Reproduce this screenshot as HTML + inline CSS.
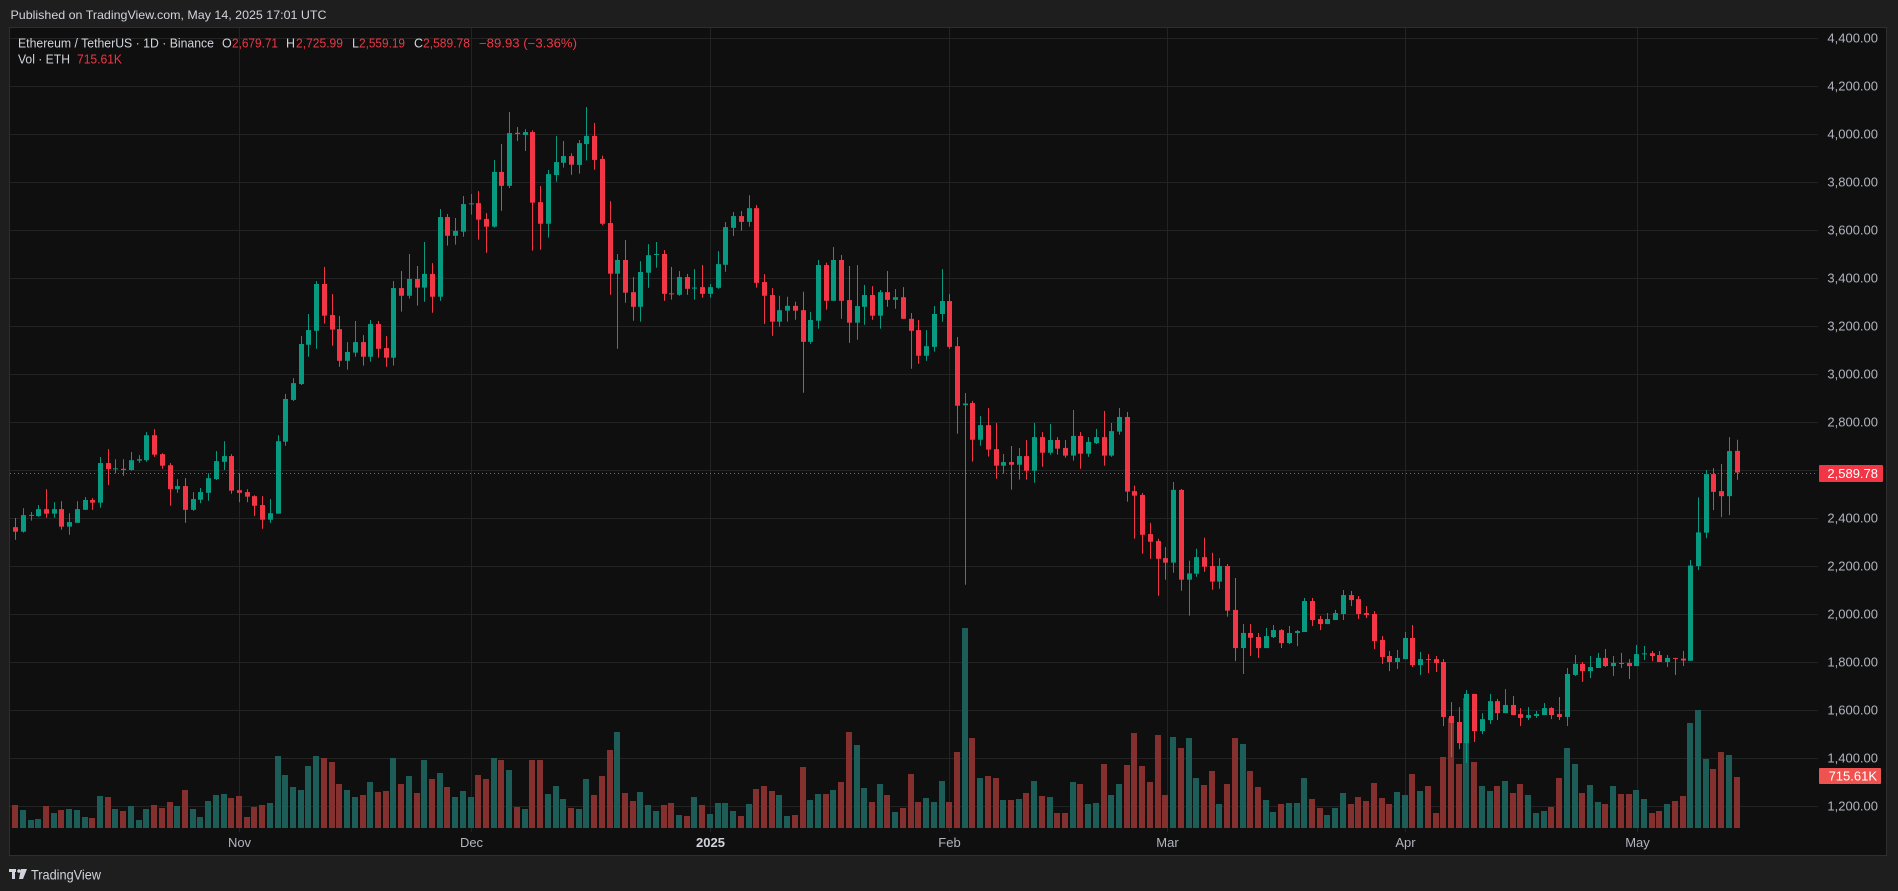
<!DOCTYPE html>
<html><head><meta charset="utf-8">
<style>
html,body{margin:0;padding:0;background:#1e1e1e;width:1898px;height:891px;overflow:hidden}
svg{display:block}
text{font-family:"Liberation Sans",sans-serif}
</style></head>
<body>
<svg id="c" width="1898" height="891" xmlns="http://www.w3.org/2000/svg">
<rect x="0" y="0" width="1898" height="891" fill="#1e1e1e"/>
<rect x="9.5" y="27.5" width="1877" height="828" fill="#0f0f0f" stroke="#2e2e2e" stroke-width="1"/>
<g id="grid"></g>
<g id="vol"></g>
<g id="candles"></g>
<line x1="10" y1="473.5" x2="1818" y2="473.5" stroke="#f23645" stroke-width="1" stroke-dasharray="1,3"/>
<g id="axis" font-size="13" fill="#b2b5be"></g>
<rect x="1819" y="465" width="64" height="17" rx="1" fill="#f23645"/>
<text x="1878" y="478" font-size="13" fill="#ffffff" text-anchor="end">2,589.78</text>
<rect x="1819" y="768" width="62" height="16" rx="1" fill="#ef5350"/>
<text x="1877" y="780.5" font-size="13" fill="#ffffff" text-anchor="end">715.61K</text>
<text x="10.5" y="19" font-size="12" fill="#d1d4dc" textLength="316" lengthAdjust="spacingAndGlyphs">Published on TradingView.com, May 14, 2025 17:01 UTC</text>
<text x="18" y="47.5" font-size="12.5" fill="#d1d4dc" textLength="196" lengthAdjust="spacingAndGlyphs">Ethereum / TetherUS · 1D · Binance</text>
<text x="222" y="47.5" font-size="12.5" fill="#d1d4dc">O</text><text x="232" y="47.5" font-size="12.5" fill="#f23645" textLength="46" lengthAdjust="spacingAndGlyphs">2,679.71</text>
<text x="286" y="47.5" font-size="12.5" fill="#d1d4dc">H</text><text x="296" y="47.5" font-size="12.5" fill="#f23645" textLength="47" lengthAdjust="spacingAndGlyphs">2,725.99</text>
<text x="352" y="47.5" font-size="12.5" fill="#d1d4dc">L</text><text x="359" y="47.5" font-size="12.5" fill="#f23645" textLength="46" lengthAdjust="spacingAndGlyphs">2,559.19</text>
<text x="414" y="47.5" font-size="12.5" fill="#d1d4dc">C</text><text x="423" y="47.5" font-size="12.5" fill="#f23645" textLength="47" lengthAdjust="spacingAndGlyphs">2,589.78</text>
<text x="479" y="47.5" font-size="12.5" fill="#f23645" textLength="98" lengthAdjust="spacingAndGlyphs">−89.93 (−3.36%)</text>
<text x="18" y="63.5" font-size="12.5" fill="#d1d4dc" textLength="52" lengthAdjust="spacingAndGlyphs">Vol · ETH</text>
<text x="77" y="63.5" font-size="12.5" fill="#f23645" textLength="45" lengthAdjust="spacingAndGlyphs">715.61K</text>
<g fill="#d1d4dc">
<rect x="9" y="869" width="7" height="3"/>
<rect x="12" y="869" width="3" height="10"/>
<circle cx="19" cy="871" r="1.8"/>
<polygon points="21,869 27,869 23,879 19,879"/>
</g>
<text x="31" y="879.5" font-size="14" fill="#d1d4dc" textLength="70" lengthAdjust="spacingAndGlyphs">TradingView</text>
</svg>
<script>
var D=[
[2362,2400,2309,2343,23],[2343,2441,2339,2412,18],[2410,2425,2389,2413,8],[2408,2454,2405,2437,9],[2437,2520,2401,2418,22],
[2418,2466,2401,2437,15],[2437,2470,2351,2364,18],[2364,2420,2330,2383,19],[2380,2470,2380,2437,18],[2434,2487,2434,2475,11],
[2475,2483,2434,2464,10],[2464,2654,2443,2629,32],[2629,2687,2537,2604,31],[2605,2645,2586,2607,19],[2605,2645,2576,2600,17],
[2600,2675,2597,2641,22],[2639,2662,2630,2645,8],[2641,2758,2634,2745,19],[2745,2770,2655,2664,23],[2666,2670,2605,2618,20],
[2620,2629,2451,2520,26],[2520,2562,2505,2533,22],[2533,2566,2380,2434,38],[2434,2508,2430,2479,19],[2476,2525,2462,2508,11],
[2505,2586,2472,2566,27],[2562,2679,2558,2637,33],[2634,2720,2600,2658,34],[2658,2666,2501,2514,30],[2516,2586,2466,2505,32],
[2508,2520,2466,2489,11],[2491,2495,2408,2451,21],[2454,2491,2355,2393,23],[2393,2479,2380,2420,25],[2418,2745,2418,2720,72],
[2718,2917,2701,2896,53],[2892,2983,2887,2962,41],[2958,3158,2954,3125,38],[3122,3250,3072,3183,62],[3180,3387,3105,3375,72],
[3375,3446,3210,3243,70],[3246,3333,3118,3185,66],[3187,3242,3030,3055,44],[3055,3133,3018,3092,38],[3089,3221,3072,3133,31],
[3133,3162,3035,3072,33],[3072,3225,3051,3208,46],[3208,3221,3068,3105,36],[3108,3158,3030,3068,37],[3068,3387,3035,3358,70],
[3358,3429,3260,3326,44],[3326,3500,3314,3396,52],[3396,3450,3285,3360,35],[3360,3550,3301,3417,68],[3417,3462,3255,3322,49],
[3322,3687,3305,3654,55],[3654,3667,3535,3576,41],[3576,3650,3539,3596,31],[3593,3742,3572,3708,37],[3708,3750,3664,3711,31],
[3712,3762,3560,3643,53],[3646,3671,3505,3614,49],[3614,3892,3610,3842,70],[3842,3958,3680,3784,68],[3784,4092,3775,4004,58],
[4005,4029,3971,4000,21],[3996,4020,3929,4008,19],[4008,4015,3514,3714,68],[3716,3783,3518,3626,68],[3626,3850,3568,3833,34],
[3829,3992,3801,3883,42],[3880,3971,3860,3908,29],[3908,3920,3830,3872,20],[3871,3975,3835,3962,19],[3958,4112,3890,3992,49],
[3992,4046,3851,3892,33],[3896,3910,3620,3626,52],[3629,3720,3330,3418,78],[3418,3500,3105,3475,96],[3475,3558,3297,3339,35],
[3341,3404,3222,3280,27],[3280,3470,3218,3425,36],[3422,3541,3359,3495,23],[3498,3550,3443,3500,17],[3500,3516,3305,3334,23],
[3336,3446,3310,3334,25],[3330,3429,3326,3404,13],[3404,3417,3330,3355,12],[3358,3437,3310,3360,31],[3362,3454,3318,3334,23],
[3334,3375,3318,3362,14],[3359,3512,3355,3458,25],[3455,3633,3426,3612,25],[3609,3675,3575,3658,17],[3658,3679,3597,3634,12],
[3634,3745,3614,3691,24],[3691,3704,3360,3380,39],[3383,3416,3209,3326,42],[3329,3358,3159,3218,37],[3218,3326,3197,3266,33],
[3264,3322,3218,3284,12],[3284,3301,3226,3264,13],[3266,3343,2922,3134,61],[3134,3259,3126,3225,28],[3222,3475,3189,3454,34],
[3454,3464,3268,3305,34],[3305,3529,3305,3475,38],[3475,3496,3230,3305,46],[3308,3450,3130,3214,96],[3214,3454,3143,3283,83],
[3280,3371,3205,3329,40],[3329,3366,3226,3243,26],[3243,3350,3189,3341,44],[3341,3429,3280,3309,33],[3309,3354,3272,3320,16],
[3320,3362,3230,3230,20],[3230,3254,3022,3180,54],[3183,3225,3043,3076,26],[3076,3183,3055,3116,30],[3113,3283,3093,3250,26],
[3250,3437,3218,3304,47],[3304,3333,3105,3113,26],[3116,3154,2751,2868,76],[2870,2921,2122,2877,200],[2879,2888,2635,2726,90],
[2726,2825,2701,2787,50],[2787,2858,2656,2685,52],[2687,2796,2564,2618,50],[2618,2667,2585,2633,28],[2633,2700,2518,2622,28],
[2622,2692,2560,2658,29],[2658,2725,2560,2597,35],[2597,2796,2547,2737,47],[2737,2758,2614,2672,32],[2672,2792,2664,2725,31],
[2725,2737,2664,2689,15],[2692,2725,2651,2660,15],[2660,2850,2639,2742,46],[2742,2758,2605,2668,44],[2668,2737,2655,2717,24],
[2712,2771,2708,2737,25],[2737,2846,2618,2660,64],[2660,2796,2655,2762,33],[2760,2858,2747,2821,44],[2821,2842,2468,2510,63],
[2512,2535,2314,2493,95],[2496,2504,2251,2330,62],[2333,2380,2230,2301,46],[2304,2314,2076,2230,93],[2233,2279,2143,2214,33],
[2214,2550,2172,2517,91],[2517,2521,2097,2143,80],[2143,2222,1993,2169,90],[2168,2272,2155,2237,50],[2237,2318,2176,2197,43],
[2200,2255,2101,2135,57],[2135,2233,2105,2200,24],[2200,2208,1989,2014,44],[2017,2150,1804,1858,90],[1858,1958,1750,1921,84],
[1921,1958,1825,1901,57],[1904,1921,1817,1858,41],[1858,1942,1858,1908,28],[1904,1954,1900,1933,16],[1933,1937,1858,1879,24],
[1879,1950,1875,1921,25],[1921,1933,1866,1929,25],[1925,2067,1925,2054,50],[2054,2067,1950,1975,29],[1979,1992,1933,1958,20],
[1958,2004,1958,1979,13],[1975,2017,1975,2004,20],[2000,2100,1975,2079,35],[2079,2096,2033,2058,24],[2062,2075,1979,2000,31],
[2004,2033,1983,1996,27],[2000,2012,1854,1887,45],[1892,1908,1792,1821,30],[1825,1846,1762,1800,24],[1800,1850,1771,1817,36],
[1812,1925,1812,1900,33],[1900,1954,1779,1787,54],[1787,1842,1746,1812,37],[1812,1833,1754,1810,42],[1812,1825,1758,1796,15],
[1800,1812,1533,1571,71],[1575,1633,1404,1546,110],[1550,1612,1437,1462,64],[1462,1683,1379,1667,130],[1667,1667,1467,1512,66],
[1512,1587,1500,1562,42],[1558,1667,1542,1637,37],[1637,1646,1558,1587,42],[1587,1687,1587,1621,47],[1621,1658,1579,1579,35],
[1583,1608,1533,1567,44],[1567,1612,1558,1579,33],[1575,1596,1567,1583,15],[1579,1629,1579,1608,17],[1608,1612,1562,1579,21],
[1583,1654,1558,1571,50],[1571,1775,1533,1750,80],[1746,1829,1742,1792,64],[1792,1800,1717,1762,35],[1762,1825,1733,1779,43],
[1775,1838,1775,1817,26],[1817,1854,1779,1783,24],[1783,1825,1742,1796,42],[1796,1838,1775,1792,34],[1796,1812,1729,1783,34],
[1783,1871,1783,1833,38],[1833,1867,1808,1836,29],[1837,1846,1804,1825,15],[1829,1846,1800,1800,17],[1800,1829,1779,1817,24],
[1817,1817,1746,1814,27],[1814,1846,1783,1806,32],[1805,2225,1805,2202,105],[2200,2486,2183,2340,118],[2339,2600,2316,2583,69],
[2583,2608,2433,2509,59],[2512,2625,2404,2491,76],[2491,2737,2412,2679,73],[2679.71,2725.99,2559.19,2589.78,51]
];
var NS="http://www.w3.org/2000/svg";
function el(p,t,a){var e=document.createElementNS(NS,t);for(var k in a)e.setAttribute(k,a[k]);p.appendChild(e);return e;}
function Y(p){return 470+(2600-p)*0.24;}
var grid=document.getElementById('grid'),axis=document.getElementById('axis');
for(var p=1200;p<=4400;p+=200){
  var y=Math.round(Y(p))+0.5;
  el(grid,'line',{x1:10,y1:y,x2:1818,y2:y,stroke:'#232323','stroke-width':1});
  if(p!==2600){var t=el(axis,'text',{x:1878,y:Y(p)+4.5,'text-anchor':'end'});t.textContent=(p/1000|0)+','+String(p%1000).padStart(3,'0')+'.00';}
}
var months=[[239,'Nov'],[471,'Dec'],[710,'2025'],[949,'Feb'],[1167,'Mar'],[1405,'Apr'],[1637,'May']];
months.forEach(function(m){
  el(grid,'line',{x1:m[0]+0.5,y1:28,x2:m[0]+0.5,y2:832,stroke:'#232323','stroke-width':1});
  var t=el(axis,'text',{x:m[0]+0.5,y:847,'text-anchor':'middle'});t.textContent=m[1];
  if(m[1]==='2025'){t.setAttribute('font-weight','bold');t.setAttribute('fill','#d1d4dc');}
});
var vg=document.getElementById('vol'),cg=document.getElementById('candles');
D.forEach(function(d,i){
  var x=15.1+7.72*i, up=d[3]>=d[0];
  var col=up?'#089981':'#f23645', vcol=up?'#1d5d58':'#83302f';
  var h=d[4];
  el(vg,'rect',{x:(Math.round(x)-3),y:828-h,width:6,height:h,fill:vcol});
  var xc=Math.round(x);
  el(cg,'rect',{x:xc,y:Y(d[1]),width:1,height:Math.max(1,Y(d[2])-Y(d[1])),fill:col});
  var top=Y(Math.max(d[0],d[3])),bot=Y(Math.min(d[0],d[3]));
  el(cg,'rect',{x:xc-2,y:top,width:5,height:Math.max(1,bot-top),fill:col});
});
</script>
</body></html>
